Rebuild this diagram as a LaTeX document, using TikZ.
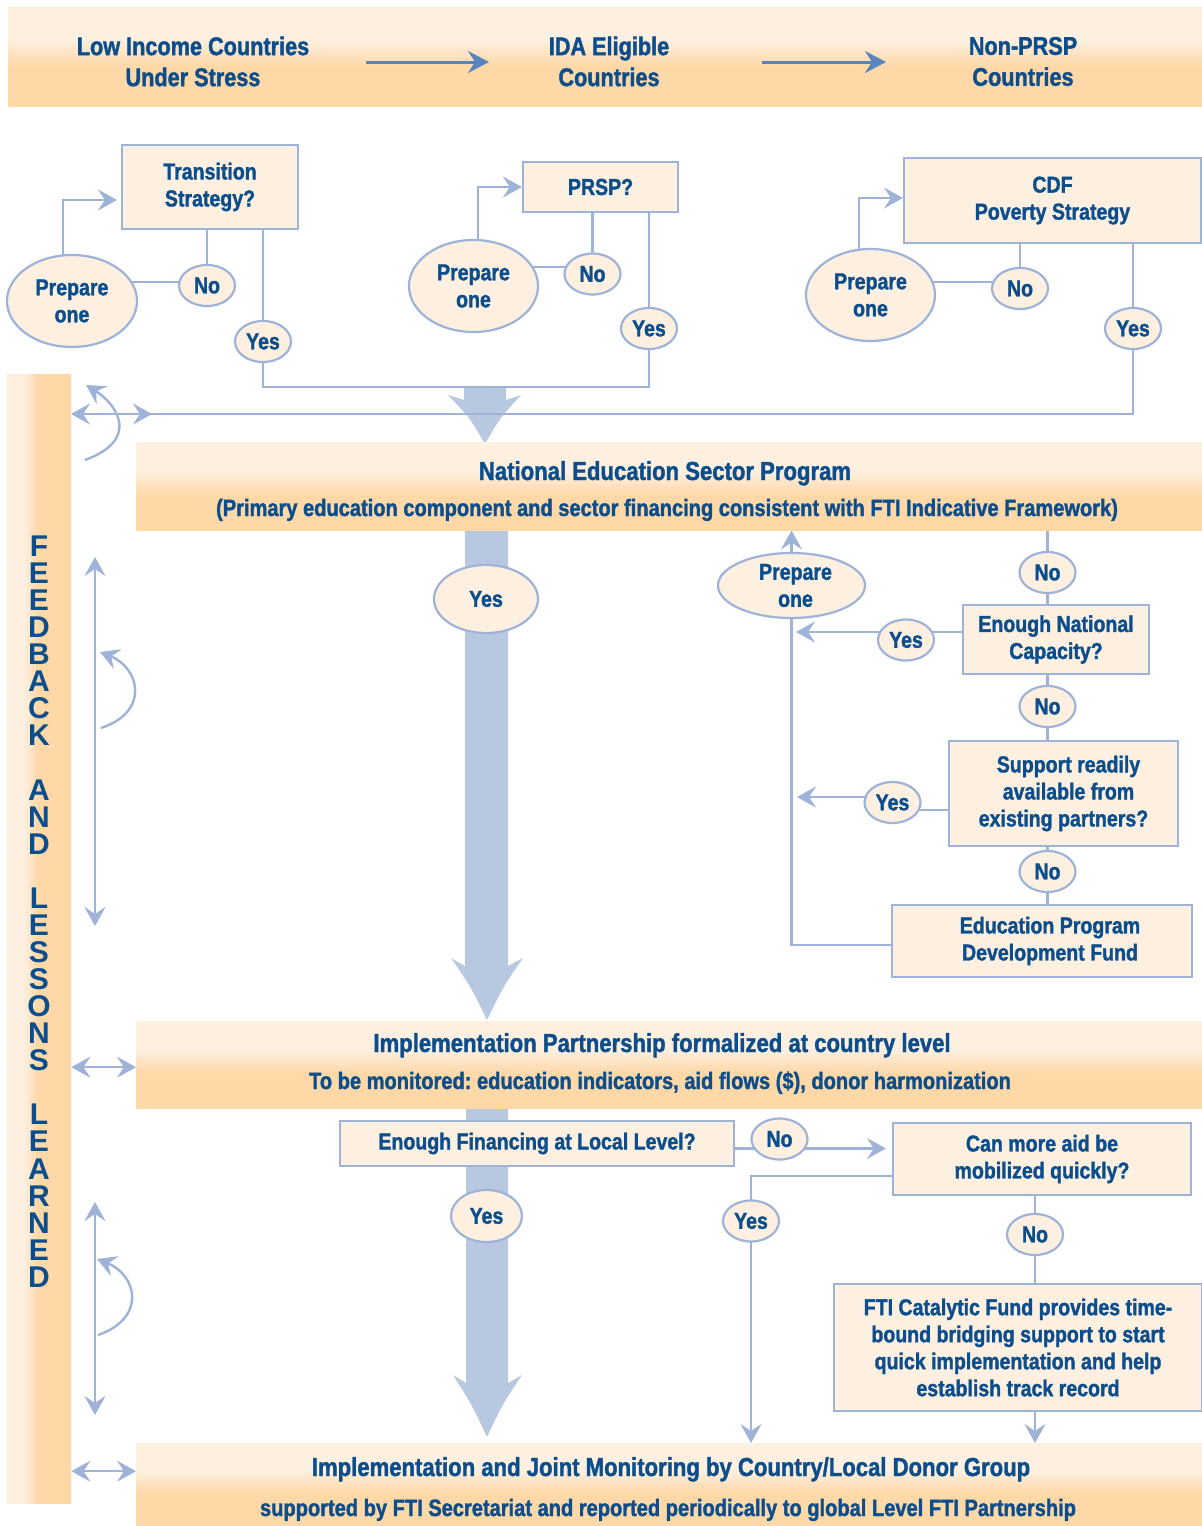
\documentclass[tikz,border=0pt]{standalone}
\usepackage{fontspec}
\setmainfont{Liberation Sans}[FakeStretch=0.85,FakeBold=1.5]
\newfontfamily\fbfont{Liberation Sans}
\usetikzlibrary{arrows.meta,shapes.geometric,calc}
\pgfdeclarelayer{paper}
\pgfdeclarelayer{back}
\pgfsetlayers{paper,back,main}
\frenchspacing
\definecolor{txt}{RGB}{12,78,140}
\definecolor{lnc}{RGB}{158,179,215}
\definecolor{bigc}{RGB}{185,200,225}
\definecolor{pl}{RGB}{253,240,225}
\definecolor{po}{RGB}{254,216,167}
\definecolor{arrdark}{RGB}{88,133,190}
\pgfdeclareverticalshading{bannersh}{100bp}{color(0bp)=(po); color(45bp)=(po); color(59bp)=(pl); color(100bp)=(pl)}
\pgfdeclarehorizontalshading{barsh}{100bp}{color(0bp)=(pl); color(38bp)=(pl); color(49bp)=(po); color(100bp)=(po)}
\begin{document}
\begin{tikzpicture}[x=1pt,y=-1pt,
  tx/.style={text=txt, font=\bfseries\fontsize{23}{27}\selectfont},
  box/.style={tx, draw=lnc, line width=2.2pt, fill=pl, inner sep=0pt, align=center},
  ov/.style={tx, ellipse, draw=lnc, line width=2.2pt, fill=pl, inner sep=0pt, align=center},
  yn/.style={ov, minimum width=56pt, minimum height=41pt},
  ttl/.style={text=txt, font=\bfseries\fontsize{26}{31}\selectfont, align=center, inner sep=0pt},
  sub/.style={text=txt, font=\bfseries\fontsize{23.6}{27}\selectfont, inner sep=0pt},
  band/.style={shade, shading=bannersh, inner sep=0pt, anchor=north west},
  ln/.style={draw=lnc, line width=2.4pt},
  arr/.style={ln, -{Stealth[length=19pt,width=21pt,inset=7pt]}},
  dbl/.style={ln, {Stealth[length=19pt,width=21pt,inset=7pt]}-{Stealth[length=19pt,width=21pt,inset=7pt]}},
  darr/.style={draw=arrdark, line width=3pt, -{Stealth[length=21pt,width=22pt,inset=7pt]}},
  bigarrow/.style={fill=bigc}
]
\begin{pgfonlayer}{paper}
\fill[white] (0,0) rectangle (1202,1526);
\end{pgfonlayer}
\useasboundingbox (0,0) rectangle (1202,1526);

% bands
\node[band, minimum width=1194pt, minimum height=99pt] (topb) at (8,7) {};
\node[band, minimum width=1066pt, minimum height=88pt] (nat) at (136,442) {};
\node[band, minimum width=1066pt, minimum height=87pt] (imp) at (136,1021) {};
\node[band, minimum width=1066pt, minimum height=83pt] (bot) at (136,1443) {};
\node[shade, shading=barsh, inner sep=0pt, anchor=north west, minimum width=64pt, minimum height=1129pt] (fb) at (7,374) {};

% band texts
\node[ttl, font=\bfseries\fontsize{25.5}{31}\selectfont] (lic) at (193,61.5) {Low Income Countries\\Under Stress};
\node[ttl, font=\bfseries\fontsize{25.5}{31}\selectfont] (ida) at (609,61.5) {IDA Eligible\\Countries};
\node[ttl, font=\bfseries\fontsize{25.5}{31}\selectfont] (npr) at (1023,61.5) {Non-PRSP\\Countries};
\coordinate (da1s) at (366,62); \coordinate (da1e) at (489,62);
\coordinate (da2s) at (762,62); \coordinate (da2e) at (886,62);
\draw[darr] (da1s) -- (da1e);
\draw[darr] (da2s) -- (da2e);

\node[ttl, anchor=base] (nat1) at (665,480) {National Education Sector Program};
\node[sub, anchor=base] (nat2) at (667,516) {(Primary education component and sector financing consistent with FTI Indicative Framework)};
\node[ttl, anchor=base] (imp1) at (662,1052) {Implementation Partnership formalized at country level};
\node[sub, anchor=base] (imp2) at (660,1089) {To be monitored: education indicators, aid flows (\$), donor harmonization};
\node[ttl, anchor=base] (bot1) at (671,1476) {Implementation and Joint Monitoring by Country/Local Donor Group};
\node[sub, anchor=base] (bot2) at (668,1516) {supported by FTI Secretariat and reported periodically to global Level FTI Partnership};

\node[text=txt, font=\fbfont\bfseries\fontsize{30}{27.07}\selectfont, align=center, inner sep=0pt] (fbt) at (39,911.5)
 {F\\E\\E\\D\\B\\A\\C\\K\\ \\A\\N\\D\\ \\L\\E\\S\\S\\O\\N\\S\\ \\L\\E\\A\\R\\N\\E\\D};

% top decision boxes
\node[box, minimum width=176pt, minimum height=84pt] (b1) at (210,187) {Transition\\Strategy?};
\node[box, minimum width=155pt, minimum height=50pt] (b2) at (600.5,187) {PRSP?};
\node[box, minimum width=297pt, minimum height=85pt] (b3) at (1052.5,200.5) {CDF\\Poverty Strategy};
\node[ov, minimum width=130pt, minimum height=92pt] (p1) at (72,301) {Prepare\\one};
\node[ov, minimum width=129pt, minimum height=92pt] (p2) at (473.5,286) {Prepare\\one};
\node[ov, minimum width=129pt, minimum height=92pt] (p3) at (870.5,295) {Prepare\\one};
\node[yn] (n1) at (207,285.5) {No};
\node[yn] (y1) at (263,341.5) {Yes};
\node[yn] (n2) at (592.5,274) {No};
\node[yn] (y2) at (649,328.5) {Yes};
\node[yn] (n3) at (1020,288.5) {No};
\node[yn] (y3) at (1133,328.5) {Yes};

% middle
\node[ov, minimum width=104pt, minimum height=68pt] (bigy1) at (486,599) {Yes};
\node[ov, minimum width=147pt, minimum height=65pt] (p4) at (791.5,585.5) {\hspace*{8pt}Prepare\\\hspace*{8pt}one};
\node[yn] (n4) at (1047.5,572.5) {No};
\node[box, minimum width=186pt, minimum height=69pt] (b4) at (1056,639.5) {Enough National\\Capacity?};
\node[yn] (y4) at (906,640) {Yes};
\node[yn] (n5) at (1047.5,706.5) {No};
\node[box, minimum width=229pt, minimum height=105pt] (b5) at (1063.5,793.5) {\hspace*{10pt}Support readily\\\hspace*{10pt}available from\\existing partners?};
\node[yn] (y5) at (892.5,802.5) {Yes};
\node[yn] (n6) at (1047.5,871.5) {No};
\node[box, minimum width=300pt, minimum height=72pt] (b6) at (1042,941) {\hspace*{16pt}Education Program\\\hspace*{16pt}Development Fund};

% lower
\node[box, minimum width=394pt, minimum height=45pt] (ef) at (537,1143.5) {Enough Financing at Local Level?};
\node[ov, minimum width=71pt, minimum height=52pt] (bigy2) at (486.5,1216) {Yes};
\node[yn] (n7) at (779.5,1139) {No};
\node[box, minimum width=298pt, minimum height=72pt] (cma) at (1042,1159) {Can more aid be\\mobilized quickly?};
\node[yn] (y7) at (751,1221) {Yes};
\node[yn] (n8) at (1035,1234.5) {No};
\node[box, minimum width=368pt, minimum height=127pt] (fti) at (1018,1347.5) {FTI Catalytic Fund provides time-\\bound bridging support to start\\quick implementation and help\\establish track record};

% free ends
\coordinate (fbtop) at (71,414);
\coordinate (cv1a) at (85,460); \coordinate (cv1b) at (86,385);
\coordinate (va1) at (95,557); \coordinate (va2) at (95,926);
\coordinate (cv2a) at (101,728); \coordinate (cv2b) at (100,652);
\coordinate (va3) at (95,1202); \coordinate (va4) at (95,1415);
\coordinate (cv3a) at (98,1335); \coordinate (cv3b) at (97,1259);

\begin{pgfonlayer}{back}
% thick arrows
\fill[bigarrow] (464,386) -- (464,400) -- (448,395) .. controls (470,418) .. (485,444) .. controls (500,418) .. (521,395) -- (506,400) -- (506,386) -- cycle;
\fill[bigarrow] (465,529) -- (465,966) -- (451,958) .. controls (471,987) .. (487,1020) .. controls (503,987) .. (523,958) -- (508,966) -- (508,529) -- cycle;
\fill[bigarrow] (466,1108) -- (466,1383) -- (453,1375) .. controls (472,1405) .. (487,1437) .. controls (502,1405) .. (522,1375) -- (508,1383) -- (508,1108) -- cycle;

% top connectors
\draw[arr] ($(p1)+(-9,0)$) |- ($(b1.west)+(-4,13)$);
\draw[ln] (b1.south -| n1) -- (n1);
\draw[ln] ($(n1)+(0,-3.5)$) -- ($(p1)+(0,-19)$);
\draw[ln] (b1.south -| y1) -- (y1) |- ($(y2)+(0,58.5)$) -- (y2);
\draw[arr] ($(p2)+(4.5,0)$) |- (b2.west);
\draw[ln] (b2.south -| n2) -- (n2);
\draw[ln] ($(n2)+(0,-7)$) -- ($(p2)+(0,-19)$);
\draw[ln] (b2.south -| y2) -- (y2);
\draw[arr] ($(p3)+(-11.5,0)$) |- ($(b3.west)+(0,-2.5)$);
\draw[ln] (b3.south -| n3) -- (n3);
\draw[ln] ($(n3)+(0,-6.5)$) -- ($(p3)+(0,-13)$);
\draw[arr] (b3.south -| y3) -- (y3) |- (fbtop);
\draw[arr] ($(fbtop)+(30,0)$) -- ($(fbtop)+(81,0)$);

% feedback arrows
\draw[arr] (cv1a) .. controls (140,440) and (118,405) .. (cv1b);
\draw[dbl] (va1) -- (va2);
\draw[arr] (cv2a) .. controls (150,712) and (140,668) .. (cv2b);
\draw[dbl] (va3) -- (va4);
\draw[arr] (cv3a) .. controls (147,1318) and (137,1275) .. (cv3b);
\draw[dbl] ($(fb.east |- imp.west)+(0,2.5)$) -- ($(imp.west)+(0,2.5)$);
\draw[dbl] ($(fb.east |- bot.west)+(0,-13.5)$) -- ($(bot.west)+(0,-13.5)$);

% middle connectors
\draw[arr] (p4) -- (p4 |- nat.south);
\draw[ln] (nat.south -| n4) -- (n4) -- (n4 |- b4.north);
\draw[arr] ($(b4.west)+(0,-7.5)$) -- ($(p4 |- b4.west)+(4.5,-7.5)$);
\draw[ln] (b4.south -| n5) -- (n5) -- (n5 |- b5.north);
\draw[ln] ($(b5.west)+(0,16.5)$) -- ($(y5)+(0,7.5)$);
\draw[arr] ($(y5)+(0,-5.5)$) -- ($(p4 |- y5)+(5.5,-5.5)$);
\draw[ln] (b5.south -| n6) -- (n6) -- (n6 |- b6.north);
\draw[ln] ($(b6.west)+(0,4)$) -| (p4);

% lower connectors
\draw[arr] ($(ef.east)+(0,5)$) -- ($(cma.west |- ef.east)+(-6,5)$);
\draw[arr] ($(cma.west)+(0,17)$) -| (y7 |- bot.north);
\draw[ln] (cma.south -| n8) -- (n8) -- (n8 |- fti.north);
\draw[arr] (fti.south -| n8) -- (n8 |- bot.north);
\end{pgfonlayer}
\end{tikzpicture}
\end{document}
